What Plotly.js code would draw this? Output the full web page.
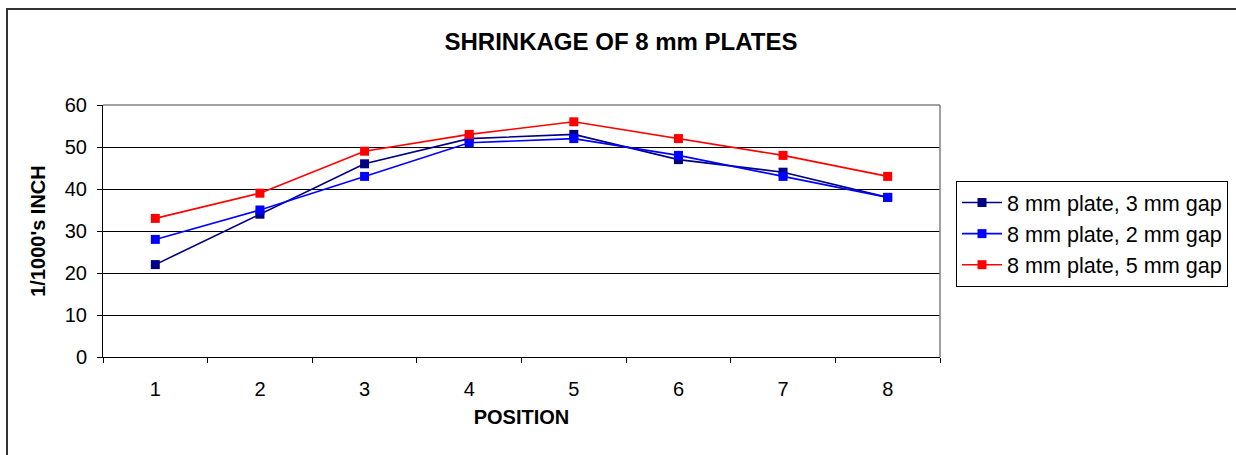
<!DOCTYPE html>
<html>
<head>
<meta charset="utf-8">
<script src="https://cdn.plot.ly/plotly-3.0.1.min.js"></script>
<style>
html,body{margin:0;padding:0;background:#fff;}
#chart{width:1236px;height:455px;}
</style>
</head>
<body>
<div id="chart"></div>
<script>
var positions = [1, 2, 3, 4, 5, 6, 7, 8];
var seriesNames = ["8 mm plate, 3 mm gap", "8 mm plate, 2 mm gap", "8 mm plate, 5 mm gap"];
var gap3mm = [22, 34, 46, 52, 53, 47, 44, 38];
var gap2mm = [28, 35, 43, 51, 52, 48, 43, 38];
var gap5mm = [33, 39, 49, 53, 56, 52, 48, 43];
var yTicks = [0, 10, 20, 30, 40, 50, 60];
var colors = ["#000080", "#0000FF", "#FF0000"];

var FONT = "Liberation Sans, Arial, sans-serif";
var seriesData = [gap3mm, gap2mm, gap5mm];
var traces = seriesData.map(function (vals, i) {
  return {
    x: positions, y: vals, name: seriesNames[i],
    type: "scatter", mode: "lines+markers",
    line: {color: colors[i], width: 1.6},
    marker: {symbol: "square", size: 9, color: colors[i]},
    legendgroup: "g" + i
  };
});

var L = 103, R = 940, T = 105, B = 357, W = 1236, H = 455;
var pw = R - L, ph = B - T;
function px(x) { return (x - L) / pw; }
function py(y) { return (B - y) / ph; }

var layout = {
  width: W, height: H,
  margin: {l: L, r: W - R, t: T, b: H - B, pad: 0, autoexpand: false},
  paper_bgcolor: "#fff", plot_bgcolor: "#fff",
  font: {family: FONT, size: 20, color: "#000"},
  title: {
    text: "<b>SHRINKAGE OF 8 mm PLATES</b>",
    font: {family: FONT, size: 24, color: "#000"},
    xref: "container", x: 621 / W, xanchor: "center",
    yref: "container", y: 1 - 42 / H, yanchor: "middle"
  },
  xaxis: {
    range: [0.5, 8.5], tickmode: "array", tickvals: positions,
    ticktext: positions.map(String),
    ticks: "", showgrid: false, zeroline: false,
    showline: true, linecolor: "#000", linewidth: 1,
    tickfont: {family: FONT, size: 20, color: "#000"},
    ticklabelstandoff: 14,
    minor: {tick0: 0.5, dtick: 1, ticks: "outside", ticklen: 5, tickcolor: "#000", tickwidth: 1, showgrid: false},
    title: {text: "<b>POSITION</b>", font: {family: FONT, size: 20, color: "#000"}, standoff: 10},
    fixedrange: true
  },
  yaxis: {
    range: [0, 60], tickmode: "array", tickvals: yTicks,
    ticks: "outside", ticklen: 5, tickcolor: "#000", tickwidth: 1,
    showgrid: true, gridcolor: "#000", gridwidth: 1,
    zeroline: false, showline: true, linecolor: "#000", linewidth: 1,
    tickfont: {family: FONT, size: 20, color: "#000"},
    ticklabelstandoff: 6,
    title: {text: "<b>1/1000's INCH</b>", font: {family: FONT, size: 20, color: "#000"}, standoff: 13},
    fixedrange: true
  },
  showlegend: true,
  legend: {
    x: 956 / W, y: 1 - 181 / H, xanchor: "left", yanchor: "top",
    xref: "container", yref: "container",
    bordercolor: "#000", borderwidth: 1, bgcolor: "#fff",
    font: {family: FONT, size: 21.6, color: "#000"},
    itemwidth: 40, tracegroupgap: 3,
    traceorder: "normal"
  },
  shapes: [
    {type: "line", xref: "paper", yref: "paper", x0: 0, x1: 1, y0: 1, y1: 1, line: {color: "#808080", width: 1.5}, layer: "above"},
    {type: "line", xref: "paper", yref: "paper", x0: 1, x1: 1, y0: 0, y1: 1, line: {color: "#808080", width: 1.5}, layer: "above"},
    {type: "rect", xref: "paper", yref: "paper", x0: px(7), x1: px(1245), y0: py(465), y1: py(9), line: {color: "#333333", width: 2}, fillcolor: "rgba(0,0,0,0)", layer: "below"}
  ]
};

Plotly.newPlot("chart", traces, layout, {displayModeBar: false, staticPlot: true});
</script>
</body>
</html>
